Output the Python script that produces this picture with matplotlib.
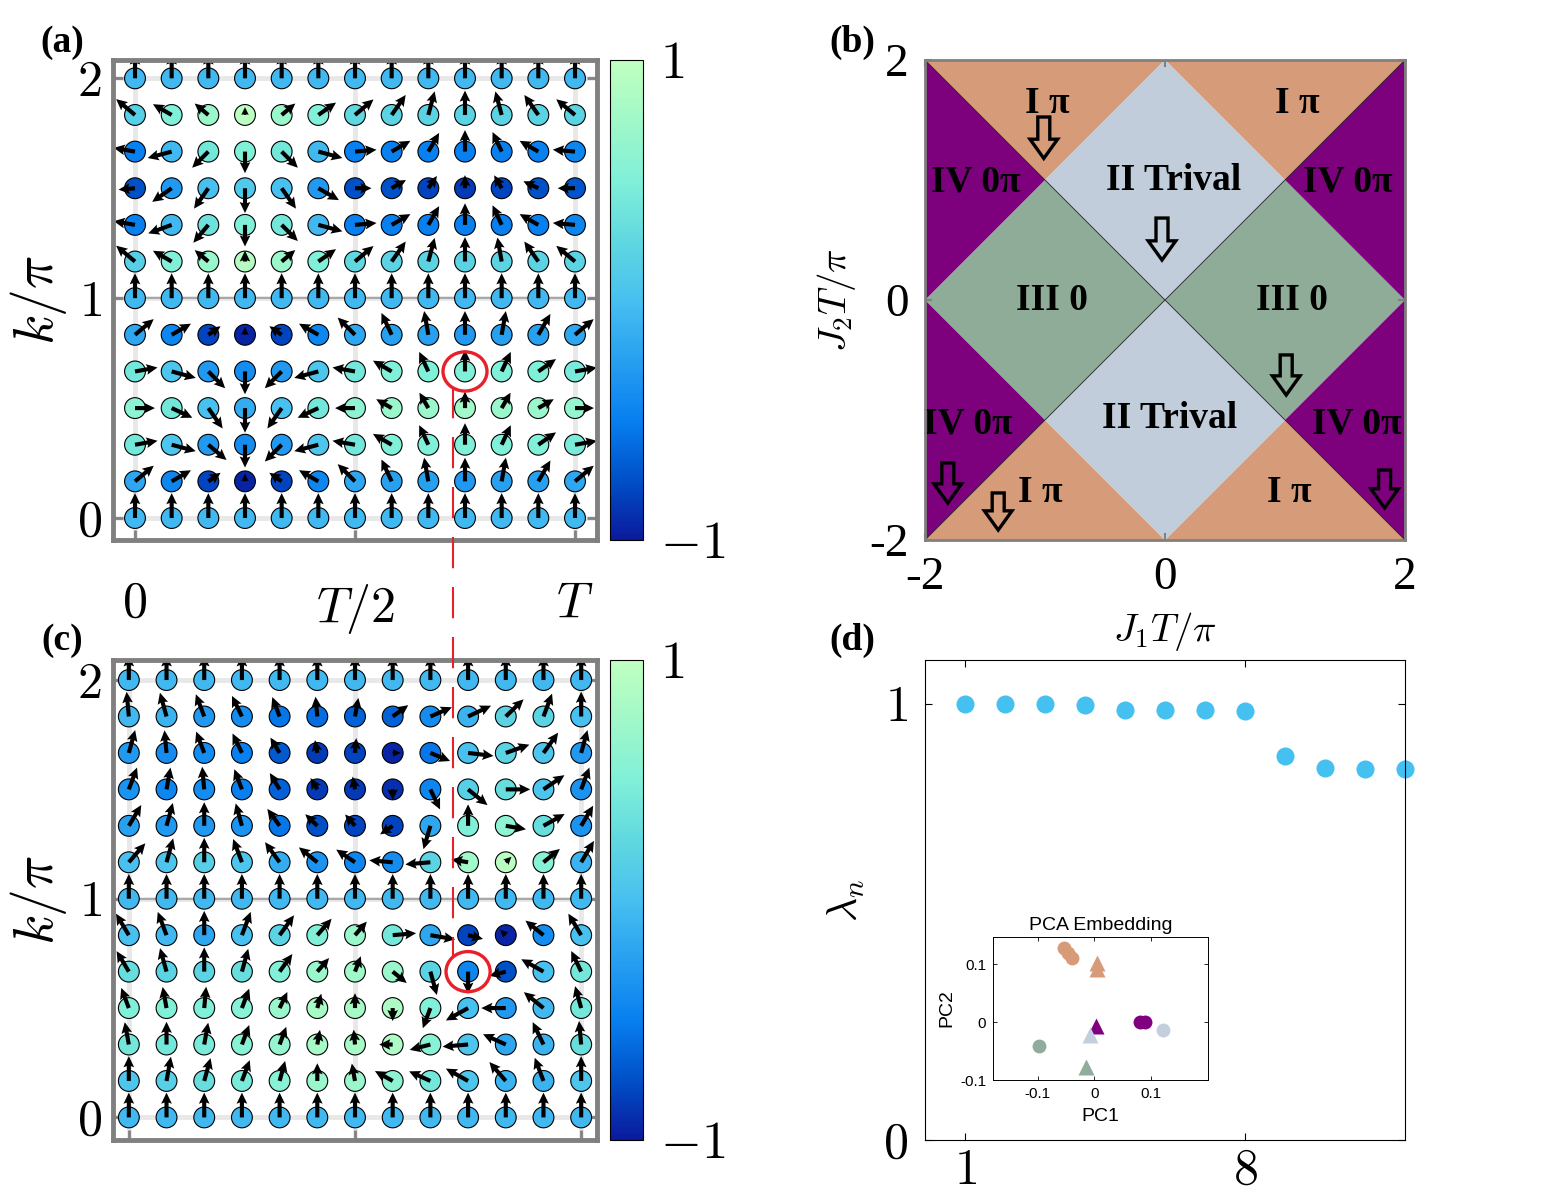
import numpy as np
import matplotlib.pyplot as plt
from matplotlib.colors import LinearSegmentedColormap
from matplotlib.patches import Polygon, Ellipse, FancyArrow
from matplotlib.lines import Line2D

plt.rcParams['mathtext.fontset'] = 'cm'
plt.rcParams['font.family'] = 'Liberation Serif'

# ---------------- data ----------------
t_labels = ['$0$', '$T/2$', '$T$']
k_labels = ['$0$', '$1$', '$2$']

# panel (a): spin z-component (colour) and in-plane angle in degrees,
# rows from k=2 (top) down to k=0, columns t=0..T
za = [
    [-0.05, -0.05, -0.05, -0.05, -0.05, -0.05, -0.05, -0.05, -0.05, -0.05, -0.05, -0.05, -0.05],
    [0.15, 0.5, 0.7, 0.95, 0.7, 0.5, 0.25, 0.2, 0.2, 0.2, 0.2, 0.2, 0.2],
    [-0.5, -0.05, 0.4, 0.5, 0.4, -0.05, -0.5, -0.5, -0.5, -0.5, -0.5, -0.5, -0.45],
    [-0.75, -0.3, 0.0, 0.1, 0.0, -0.3, -0.75, -0.75, -0.8, -0.85, -0.8, -0.75, -0.72],
    [-0.5, -0.05, 0.35, 0.5, 0.4, -0.05, -0.5, -0.5, -0.5, -0.5, -0.5, -0.5, -0.45],
    [0.15, 0.5, 0.7, 0.9, 0.7, 0.5, 0.25, 0.2, 0.2, 0.2, 0.2, 0.2, 0.2],
    [-0.05, -0.05, -0.05, -0.05, -0.05, -0.05, -0.05, -0.05, -0.05, -0.05, -0.05, -0.05, -0.05],
    [-0.2, -0.45, -0.8, -0.95, -0.8, -0.45, -0.2, -0.25, -0.25, -0.3, -0.25, -0.25, -0.2],
    [0.4, 0.05, -0.3, -0.4, -0.3, 0.05, 0.4, 0.5, 0.5, 0.5, 0.5, 0.5, 0.45],
    [0.6, 0.4, 0.0, -0.15, 0.0, 0.4, 0.6, 0.7, 0.7, 0.75, 0.7, 0.7, 0.65],
    [0.4, 0.05, -0.3, -0.4, -0.3, 0.05, 0.4, 0.5, 0.5, 0.5, 0.5, 0.5, 0.45],
    [-0.2, -0.45, -0.8, -0.95, -0.8, -0.45, -0.2, -0.25, -0.25, -0.3, -0.25, -0.25, -0.2],
    [-0.05, -0.05, -0.05, -0.05, -0.05, -0.05, -0.05, -0.05, -0.05, -0.05, -0.05, -0.05, -0.05],
]
anga = [
    [90, 90, 90, 90, 90, 90, 90, 90, 90, 90, 90, 90, 90],
    [140, 150, 140, 90, 40, 35, 40, 55, 75, 90, 105, 125, 140],
    [170, 195, 225, 270, 315, 345, 5, 30, 60, 90, 115, 150, 175],
    [185, 215, 235, 270, 305, 330, 0, 30, 55, 90, 120, 155, 180],
    [170, 200, 230, 270, 315, 345, 5, 30, 60, 90, 115, 150, 175],
    [140, 150, 140, 90, 40, 35, 40, 55, 75, 90, 100, 125, 140],
    [90, 90, 90, 90, 90, 90, 90, 90, 90, 90, 90, 90, 90],
    [40, 30, 35, 90, 145, 150, 135, 115, 100, 90, 80, 60, 40],
    [10, 345, 315, 270, 225, 195, 170, 150, 115, 90, 65, 35, 10],
    [0, 335, 305, 270, 235, 205, 180, 150, 120, 90, 60, 30, 0],
    [10, 345, 320, 270, 225, 195, 170, 150, 115, 90, 65, 35, 10],
    [40, 30, 35, 90, 145, 150, 135, 115, 100, 90, 80, 60, 40],
    [90, 90, 90, 90, 90, 90, 90, 90, 90, 90, 90, 90, 90],
]

# panel (c)
zc = [
    [-0.05, -0.05, -0.05, -0.05, -0.05, -0.05, -0.05, -0.05, -0.05, -0.05, -0.05, -0.05, -0.05],
    [-0.05, -0.1, -0.3, -0.4, -0.55, -0.6, -0.65, -0.65, -0.4, -0.1, 0.2, 0.2, 0.0],
    [-0.3, -0.4, -0.4, -0.5, -0.7, -0.85, -0.8, -0.95, -0.55, 0.0, 0.2, 0.05, -0.3],
    [-0.35, -0.45, -0.4, -0.5, -0.65, -0.85, -0.85, -0.9, -0.45, 0.15, 0.3, 0.05, -0.35],
    [-0.25, -0.3, -0.3, -0.35, -0.55, -0.75, -0.8, -0.8, -0.2, 0.5, 0.6, 0.3, -0.35],
    [0.0, 0.05, 0.15, 0.05, -0.15, -0.35, -0.45, -0.4, 0.2, 0.75, 0.95, 0.55, -0.1],
    [-0.05, -0.05, -0.05, -0.05, -0.05, -0.05, -0.05, -0.05, -0.05, -0.05, -0.05, -0.05, -0.05],
    [0.0, -0.05, -0.2, 0.0, 0.2, 0.5, 0.7, 0.4, -0.2, -0.8, -0.95, -0.4, 0.0],
    [0.3, 0.2, 0.2, 0.3, 0.5, 0.7, 0.75, 0.7, 0.2, -0.45, -0.75, 0.0, 0.4],
    [0.5, 0.5, 0.5, 0.55, 0.7, 0.8, 0.8, 0.85, 0.5, 0.0, -0.3, -0.05, 0.4],
    [0.4, 0.4, 0.45, 0.55, 0.65, 0.8, 0.8, 0.85, 0.55, 0.05, -0.2, -0.1, 0.3],
    [0.05, 0.15, 0.3, 0.45, 0.55, 0.7, 0.7, 0.6, 0.4, 0.05, -0.1, -0.1, 0.05],
    [-0.05, -0.05, -0.05, -0.05, -0.05, -0.05, -0.05, -0.05, -0.05, -0.05, -0.05, -0.05, -0.05],
]
angc = [
    [90, 90, 90, 90, 90, 90, 90, 90, 90, 90, 90, 90, 90],
    [95, 105, 110, 115, 110, 95, 80, 37, 24, 26, 45, 70, 90],
    [75, 95, 110, 115, 120, 100, 85, 0, 337, 353, 20, 55, 75],
    [70, 80, 95, 110, 120, 120, 100, 270, 295, 320, 0, 35, 70],
    [60, 75, 90, 105, 125, 135, 130, 215, 254, 90, 350, 30, 60],
    [50, 75, 90, 110, 125, 140, 145, 175, 185, 170, 45, 40, 60],
    [90, 90, 90, 90, 90, 90, 90, 90, 90, 90, 90, 90, 90],
    [120, 110, 90, 70, 55, 50, 50, 5, 350, 345, 135, 140, 120],
    [120, 105, 90, 75, 55, 50, 70, 320, 285, 270, 195, 150, 115],
    [110, 100, 85, 70, 65, 75, 90, 270, 250, 210, 180, 140, 105],
    [100, 90, 80, 70, 70, 80, 95, 180, 195, 185, 155, 115, 95],
    [90, 80, 75, 70, 75, 90, 100, 150, 155, 150, 130, 110, 90],
    [90, 90, 90, 90, 90, 90, 90, 90, 90, 90, 90, 90, 90],
]

# panel (b): phase regions (J1 T/pi, J2 T/pi)
region_I = [[(-2, 2), (0, 2), (-1, 1)], [(0, 2), (2, 2), (1, 1)],
            [(-2, -2), (0, -2), (-1, -1)], [(0, -2), (2, -2), (1, -1)]]
region_II = [[(0, 2), (1, 1), (0, 0), (-1, 1)], [(0, -2), (1, -1), (0, 0), (-1, -1)]]
region_III = [[(-2, 0), (-1, 1), (0, 0), (-1, -1)], [(2, 0), (1, 1), (0, 0), (1, -1)]]
region_IV = [[(-2, 2), (-1, 1), (-2, 0)], [(-2, 0), (-1, -1), (-2, -2)],
             [(2, 2), (1, 1), (2, 0)], [(2, 0), (1, -1), (2, -2)]]
phase_names = ['I π', 'I π', 'IV 0π', 'II Trival', 'IV 0π', 'III 0', 'III 0',
               'IV 0π', 'II Trival', 'IV 0π', 'I π', 'I π']
phase_x = [-0.98, 1.1, -1.58, 0.07, 1.52, -0.94, 1.06, -1.64, 0.04, 1.6, -1.04, 1.04]
phase_y = [1.64, 1.64, 0.98, 1.0, 0.98, 0.0, 0.0, -1.03, -0.99, -1.03, -1.6, -1.6]

# panel (d)
n_idx = [1, 2, 3, 4, 5, 6, 7, 8, 9, 10, 11, 12]
lam = [1.0, 1.0, 1.0, 0.998, 0.986, 0.986, 0.986, 0.982, 0.880, 0.853, 0.850, 0.850]

# inset PCA embedding
pca_sets = [
    ('#D79B7A', 'o', [-0.054, -0.047, -0.040], [0.128, 0.119, 0.110]),
    ('#D79B7A', '^', [0.005, 0.005], [0.102, 0.091]),
    ('#800080', 'o', [0.081, 0.089], [0.0, 0.0]),
    ('#800080', '^', [0.003], [-0.006]),
    ('#C4CFDE', 'o', [0.121], [-0.013]),
    ('#C4CFDE', '^', [-0.007], [-0.022]),
    ('#8FAD9A', 'o', [-0.097], [-0.042]),
    ('#8FAD9A', '^', [-0.015], [-0.078]),
]

# ---------------- figure ----------------
cmap = LinearSegmentedColormap.from_list('spin', [
    '#0A1A9C', '#0050C8', '#0880F0', '#28A0F0', '#48C0F0',
    '#60D8E0', '#80F0D8', '#A0F8C8', '#C0FFC0'])

fig = plt.figure(figsize=(15.46, 12), dpi=100)
W, H = 1546, 1200


def px_axes(l, t, r, b):
    return fig.add_axes([l / W, 1 - b / H, (r - l) / W, (b - t) / H])


def spin_panel(ax, z, ang, xlim, ylim):
    z = np.flipud(np.array(z, float))
    th = np.deg2rad(np.flipud(np.array(ang, float)))
    rows, cols = np.indices(z.shape)
    ln = 0.68 * np.sqrt(np.clip(1 - z ** 2, 0, None))
    ax.set_xlim(*xlim)
    ax.set_ylim(*ylim)
    ax.set_xticks([0, 6, 12])
    ax.set_yticks([0, 6, 12])
    ax.set_yticklabels(k_labels)
    ax.grid(True, color='#E8E8E8', lw=3.5)
    ax.set_axisbelow(True)
    ax.plot([0, 12], [6, 6], color='#A8A8A8', lw=1.5, zorder=1)
    ax.scatter(cols.ravel(), rows.ravel(), c=z.ravel(), cmap=cmap, vmin=-1, vmax=1,
               s=225, edgecolors='k', linewidths=0.8, zorder=3)
    ax.quiver(cols, rows, ln * np.cos(th), ln * np.sin(th), angles='xy',
              scale_units='xy', scale=1, pivot='tail', width=0.0085,
              headwidth=2.6, headlength=2.7, headaxislength=2.4, color='k', zorder=4)
    for s in ax.spines.values():
        s.set_color('#808080')
        s.set_linewidth(3.5)
        s.set_zorder(6)
    ax.tick_params(direction='in', length=7, width=2, color='#808080',
                   top=True, right=True, labelsize=36, pad=8)
    ax.set_ylabel(r'$k/\pi$', fontsize=40, labelpad=6)


def colour_bar(cax):
    sm = plt.cm.ScalarMappable(cmap=cmap, norm=plt.Normalize(-1, 1))
    cb = fig.colorbar(sm, cax=cax, ticks=[-1, 1])
    cb.ax.set_yticklabels(['$-1$', '$1$'], fontsize=38)
    cb.ax.tick_params(length=0, pad=12)
    cb.outline.set_linewidth(0.8)


# (a)
axa = px_axes(113, 60, 597, 540)
spin_panel(axa, za, anga, (-0.6, 12.6), (-0.6, 12.5))
axa.set_xticklabels(t_labels)
axa.tick_params(axis='x', pad=30)
axa.add_patch(Ellipse((9, 4), 1.2, 1.07, fill=False, ec='#E8202A', lw=2.4, zorder=7))
colour_bar(px_axes(610, 60, 643, 540))

# (c)
axc = px_axes(113, 660, 597, 1140)
spin_panel(axc, zc, angc, (-0.42, 12.42), (-0.62, 12.55))
axc.tick_params(axis='x', labelbottom=False)
axc.add_patch(Ellipse((9, 4), 1.17, 1.1, fill=False, ec='#E8202A', lw=2.4, zorder=7))
colour_bar(px_axes(610, 660, 643, 1140))

# dashed red connector between (a) and (c)
fig.add_artist(Line2D([453 / W, 453 / W], [1 - 387 / H, 1 - 957 / H],
                      transform=fig.transFigure, color='#E8202A', lw=1.5,
                      dashes=(15, 9), zorder=10))

# (b)
axb = px_axes(925, 60, 1405, 540)
for polys, col in [(region_I, '#D69B79'), (region_II, '#C2CDDB'),
                   (region_III, '#8FAC98'), (region_IV, '#7D007D')]:
    for verts in polys:
        axb.add_patch(Polygon(verts, closed=True, fc=col, ec='none', zorder=1))
axb.plot([-2, 2], [-2, 2], color='#222222', lw=0.6, zorder=2)
axb.plot([-2, 2], [2, -2], color='#222222', lw=0.6, zorder=2)
for name, x, y in zip(phase_names, phase_x, phase_y):
    axb.text(x, y, name, ha='center', va='center', fontsize=27,
             fontweight='bold', family='Liberation Serif', zorder=3)
for x, top, tip in [(-1.01, 1.525, 1.18), (-0.025, 0.683, 0.333), (1.01, -0.458, -0.792),
                    (-1.81, -1.358, -1.692), (-1.39, -1.608, -1.917), (1.83, -1.417, -1.733)]:
    axb.add_patch(FancyArrow(x, top, 0, tip - top, width=0.1, head_width=0.23,
                             head_length=0.16, length_includes_head=True,
                             fc='none', ec='k', lw=2.4, zorder=4))
axb.set_xlim(-2, 2)
axb.set_ylim(-2, 2)
axb.set_xticks([-2, 0, 2])
axb.set_yticks([-2, 0, 2])
axb.set_xticklabels(['-2', '0', '2'])
axb.set_yticklabels(['-2', '0', '2'])
axb.tick_params(direction='in', length=5, width=1.5, color='#808080',
                top=True, right=True, labelsize=34, pad=12)
for s in axb.spines.values():
    s.set_color('#808080')
    s.set_linewidth(2)
    s.set_zorder(6)
axb.set_xlabel(r'$J_1T/\pi$', fontsize=28, labelpad=8)
axb.set_ylabel(r'$J_2T/\pi$', fontsize=28, labelpad=8)

# (d)
axd = px_axes(925, 660, 1405, 1140)
axd.plot(n_idx, lam, 'o', color='#44C1F1', ms=13, mec='none', clip_on=False)
axd.set_xlim(0, 12)
axd.set_ylim(0, 1.1)
axd.set_xticks([1, 8])
axd.set_yticks([0, 1])
axd.set_xticklabels(['$1$', '$8$'])
axd.set_yticklabels(['$0$', '$1$'])
axd.tick_params(direction='in', length=5, width=0.8, top=True, right=True,
                labelsize=36, pad=12)
axd.tick_params(axis='x', pad=6)
for s in axd.spines.values():
    s.set_linewidth(0.8)
axd.set_ylabel(r'$\lambda_n$', fontsize=30, labelpad=12)

# inset
axi = px_axes(993, 937, 1208, 1080)
for col, mk, xs, ys in pca_sets:
    axi.plot(xs, ys, mk, color=col, ms=10 if mk == 'o' else 11, mec='none')
axi.set_xlim(-0.179, 0.201)
axi.set_ylim(-0.1, 0.147)
axi.set_xticks([-0.1, 0, 0.1])
axi.set_yticks([-0.1, 0, 0.1])
axi.set_xticklabels(['-0.1', '0', '0.1'], family='Liberation Sans')
axi.set_yticklabels(['-0.1', '0', '0.1'], family='Liberation Sans')
axi.tick_params(direction='in', length=3, width=0.6, top=True, right=True,
                labelsize=11, pad=5)
for s in axi.spines.values():
    s.set_linewidth(0.7)
axi.set_title('PCA Embedding', fontsize=14, family='Liberation Sans', pad=5)
axi.set_xlabel('PC1', fontsize=14, family='Liberation Sans', labelpad=5)
axi.set_ylabel('PC2', fontsize=14, family='Liberation Sans', labelpad=3)

# panel letters
for lbl, x, y in [('(a)', 62, 42), ('(b)', 852, 42), ('(c)', 62, 640), ('(d)', 852, 640)]:
    fig.text(x / W, 1 - y / H, lbl, fontsize=27, fontweight='bold',
             ha='center', va='center', family='Liberation Serif')

fig.savefig('out.png', dpi=100)
